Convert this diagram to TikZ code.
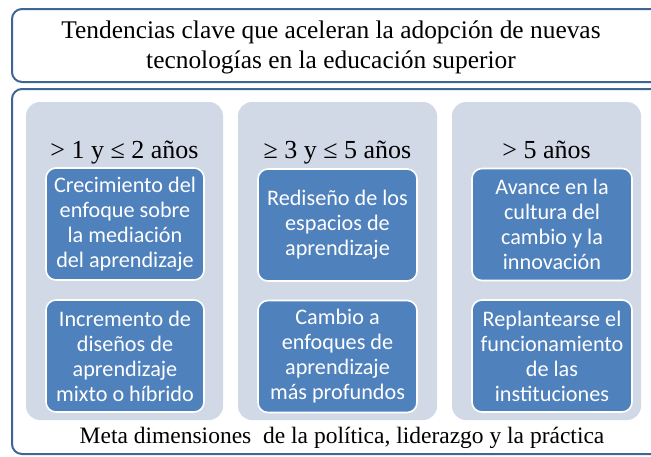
\documentclass[tikz,border=0pt]{standalone}
\usepackage{fontspec}
\setmainfont{Liberation Serif}
\newfontfamily\serifface{Liberation Serif}
\newfontfamily\boxfont{Carlito}
\definecolor{frameblue}{HTML}{3F6595}
\definecolor{panelgray}{HTML}{D1D9E7}
\definecolor{boxblue}{HTML}{4F81BD}
\tikzset{
  frame/.style={draw=frameblue, line width=2pt, rounded corners=10pt, fill=white},
  panel/.style={fill=panelgray, rounded corners=14pt, inner sep=0pt},
  item/.style={fill=boxblue, draw=white, line width=1.6pt, rounded corners=10pt,
    minimum width=158pt, minimum height=112pt, inner sep=0pt, align=center,
    text=white, font=\boxfont\fontsize{22.2}{25}\selectfont},
  head/.style={font=\serifface\fontsize{26}{30}\selectfont, inner sep=0pt, anchor=base},
}
\begin{document}
\begin{tikzpicture}[x=1pt,y=-1pt]
\useasboundingbox (0,0) rectangle (651,456);
\begin{scope}
\clip (0,0) rectangle (651,456);
\draw[frame] (12,9) rectangle (668,82);
\draw[frame] (12,89) rectangle (668,454);
\end{scope}
\node[align=center, font=\serifface\fontsize{25.4}{30}\selectfont, inner sep=0pt] (title) at (331,47)
  {Tendencias clave que aceleran la adopción de nuevas\\tecnologías en la educación superior};
% panels
\node[panel, minimum width=197pt, minimum height=318pt] (p1) at (124.5,261) {};
\node[panel, minimum width=199pt, minimum height=318pt] (p2) at (337.5,261) {};
\node[panel, minimum width=189pt, minimum height=318pt] (p3) at (546.5,261) {};
% headers
\node[head] (h1) at (124.5,158) {> 1 y ≤ 2 años};
\node[head] (h2) at (337.5,158) {≥ 3 y ≤ 5 años};
\node[head] (h3) at (546.5,158) {> 5 años};
% boxes
\node[item] (a1) at (125,224) {Crecimiento del\\enfoque sobre\\la mediación\\del aprendizaje};
\node[item] (a2) at (125,356) {Incremento de\\diseños de\\aprendizaje\\mixto o híbrido};
\node[item, minimum width=159pt] (b1) at (337.5,225) {Rediseño de los\\espacios de\\aprendizaje};
\node[item, minimum width=159pt] (b2) at (337.5,356.5) {Cambio a\\enfoques de\\aprendizaje\\más profundos};
\node[item, minimum width=160pt] (c1) at (552,224.5) {Avance en la\\cultura del\\cambio y la\\innovación};
\node[item, minimum width=160pt] (c2) at (552,356) {Replantearse el\\funcionamiento\\de las\\instituciones};
\node[font=\serifface\fontsize{23.5}{27}\selectfont, inner sep=0pt] (foot) at (342,438)
  {Meta dimensiones\ \ de la política, liderazgo y la práctica};
\end{tikzpicture}
\end{document}
